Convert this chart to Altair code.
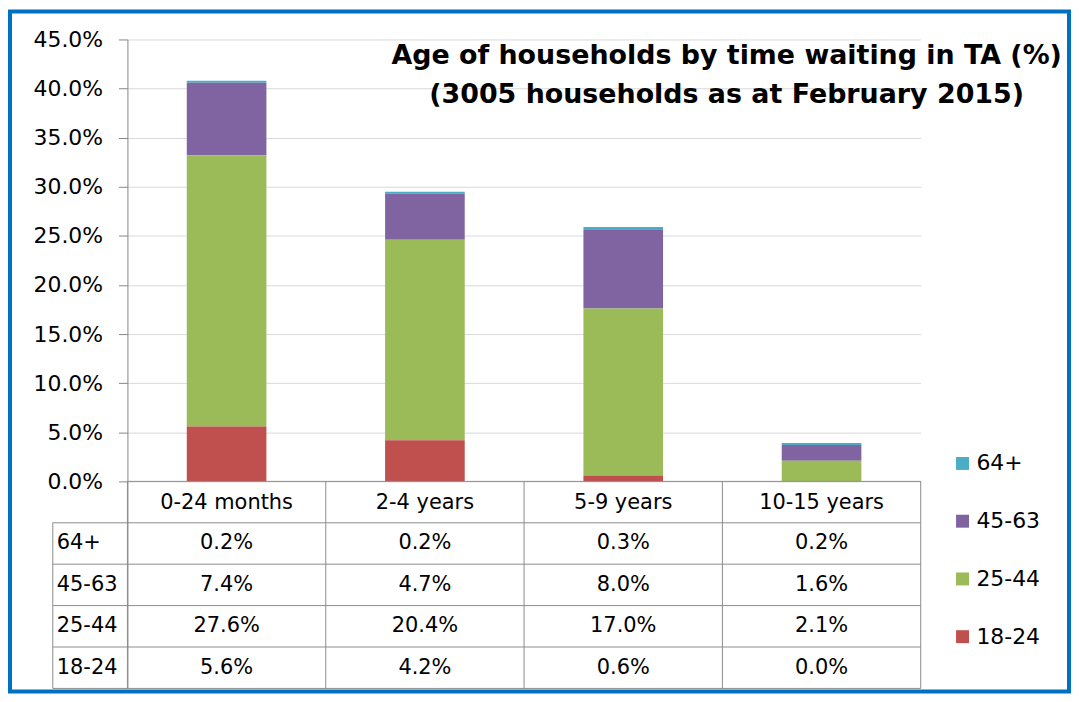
import altair as alt
import pandas as pd

# ---------------- data ----------------
categories = ["0-24 months", "2-4 years", "5-9 years", "10-15 years"]
age_groups = ["64+", "45-63", "25-44", "18-24"]          # table / legend order (top to bottom)
share_64_plus = [0.2, 0.2, 0.3, 0.2]
share_45_63 = [7.4, 4.7, 8.0, 1.6]
share_25_44 = [27.6, 20.4, 17.0, 2.1]
share_18_24 = [5.6, 4.2, 0.6, 0.0]
group_colors = ["#4BACC6", "#8064A2", "#9BBB59", "#C0504D"]
y_ticks = [0, 5, 10, 15, 20, 25, 30, 35, 40, 45]
title_lines = ["Age of households by time waiting in TA (%)",
               "(3005 households as at February 2015)"]

series = [share_64_plus, share_45_63, share_25_44, share_18_24]

# ---------------- layout constants ----------------
W, H = 797, 652
Y_MAX = 45
PX_PER_UNIT = 444 / Y_MAX
Y_MIN = -(H - 444) / PX_PER_UNIT          # table area below the zero line
ROW_H = -Y_MIN / 5
LABEL_W = 75 / (W / 4)                    # row-label column width in x units
FONT = "DejaVu Sans"
LINE = "#8C8C8C"

xs = alt.Scale(domain=[0, 4], nice=False, zero=False, padding=0)
ys = alt.Scale(domain=[Y_MIN, Y_MAX], nice=False, zero=False, padding=0)

# ---------------- tables ----------------
bar_rows = []
for gi, (g, vals) in enumerate(zip(age_groups, series)):
    for ci, (c, v) in enumerate(zip(categories, vals)):
        bar_rows.append({"category": c, "xc": ci + 0.5, "group": g, "value": v,
                         "stack": len(age_groups) - 1 - gi,
                         "row": gi + 1})
bars_df = pd.DataFrame(bar_rows)
bars_df["ty"] = -(bars_df["row"] + 0.5) * ROW_H

header_df = pd.DataFrame({"category": categories,
                          "xc": [i + 0.5 for i in range(len(categories))],
                          "ty": [-0.5 * ROW_H] * len(categories)})

rowlab_df = pd.DataFrame({"group": age_groups,
                          "x": [-LABEL_W] * len(age_groups),
                          "ty": [-(i + 1.5) * ROW_H for i in range(len(age_groups))]})

rules = []
# horizontal lines
for k in range(6):
    rules.append({"x": 0 if k == 0 else -LABEL_W, "x2": 4, "y": -k * ROW_H, "y2": -k * ROW_H})
# vertical lines
for k in range(5):
    rules.append({"x": k, "x2": k, "y": 0, "y2": Y_MIN})
rules.append({"x": -LABEL_W, "x2": -LABEL_W, "y": -ROW_H, "y2": Y_MIN})
rules_df = pd.DataFrame(rules)

title_df = pd.DataFrame({"line": title_lines, "i": list(range(len(title_lines)))})

# ---------------- layers ----------------
frame = alt.Chart(pd.DataFrame({"k": [0]})).mark_rect(
    filled=False, stroke="#0070C0", strokeWidth=4
).encode(x=alt.value(-118), x2=alt.value(946), y=alt.value(-28), y2=alt.value(H + 3))

bars = alt.Chart(bars_df).mark_bar(orient="vertical", size=80).encode(
    x=alt.X("xc:Q", scale=xs, axis=None),
    y=alt.Y("value:Q", stack="zero", scale=ys, title=None,
            axis=alt.Axis(values=y_ticks, grid=True, gridColor="#D9D9D9",
                          domainColor="#868686", tickColor="#868686",
                          tickSize=9, labelPadding=16,
                          labelExpr="format(datum.value / 100, '.1%')",
                          labelFont=FONT, labelFontSize=22, labelColor="#000000")),
    color=alt.Color("group:N", scale=alt.Scale(domain=age_groups, range=group_colors),
                    legend=alt.Legend(title=None, orient="none", legendX=828, legendY=415,
                                      symbolType="square", symbolSize=169,
                                      symbolStrokeWidth=0, labelFont=FONT,
                                      labelFontSize=22, labelColor="#000000",
                                      rowPadding=36, labelOffset=3, padding=0)),
    order=alt.Order("stack:Q"),
)

table_lines = alt.Chart(rules_df).mark_rule(color=LINE, strokeWidth=1).encode(
    x=alt.X("x:Q", scale=xs, axis=None), x2="x2:Q",
    y=alt.Y("y:Q", scale=ys, axis=None), y2="y2:Q",
)

header_text = alt.Chart(header_df).mark_text(
    font=FONT, fontSize=21, color="#000000", baseline="middle", dy=1
).encode(x=alt.X("xc:Q", scale=xs, axis=None),
         y=alt.Y("ty:Q", scale=ys, axis=None),
         text="category:N")

cell_text = alt.Chart(bars_df).transform_calculate(
    label="format(datum.value, '.1f') + '%'"
).mark_text(font=FONT, fontSize=21, color="#000000", baseline="middle").encode(
    x=alt.X("xc:Q", scale=xs, axis=None),
    y=alt.Y("ty:Q", scale=ys, axis=None),
    text="label:N",
)

row_labels = alt.Chart(rowlab_df).mark_text(
    font=FONT, fontSize=21, color="#000000", baseline="middle", align="left", dx=4
).encode(x=alt.X("x:Q", scale=xs, axis=None),
         y=alt.Y("ty:Q", scale=ys, axis=None),
         text="group:N")

title = alt.Chart(title_df).mark_text(
    font=FONT, fontSize=27, fontWeight="bold", color="#000000",
    align="center", baseline="alphabetic"
).encode(x=alt.value(602),
         y=alt.Y("i:Q", scale=alt.Scale(domain=[0, 1], range=[25, 64]), axis=None),
         text="line:N")

chart = alt.layer(frame, bars, table_lines, header_text, cell_text, row_labels, title).resolve_scale(
    y="independent"
).properties(width=W, height=H, padding=0).configure_view(stroke=None)

chart.save("out.html", embed_options={"renderer": "svg", "actions": False})
